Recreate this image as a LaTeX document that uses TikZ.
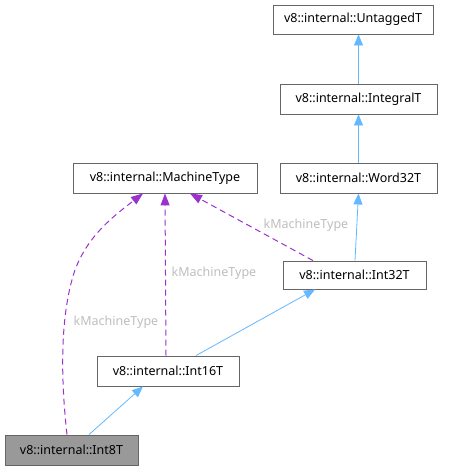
\documentclass[tikz,border=0pt]{standalone}
\usepackage{fontspec}
\setmainfont{Noto Sans}
\usetikzlibrary{arrows.meta}
\definecolor{edgeblue}{HTML}{63B8FF}
\definecolor{edgepurple}{HTML}{9A32CD}
\definecolor{boxborder}{HTML}{666666}
\definecolor{labelgray}{HTML}{BEBEBE}
\tikzset{
  cls/.style={draw=boxborder, line width=0.9pt, fill=white, inner sep=0pt, font=\fontsize{12.5}{14}\selectfont, text=black},
  inh/.style={draw=edgeblue, line width=0.8pt, -{Triangle[length=11pt,width=9pt]}},
  use/.style={draw=edgepurple, line width=1pt, dash pattern=on 6pt off 4pt, -{Triangle[length=12pt,width=9pt]}},
  lbl/.style={text=labelgray, font=\fontsize{12.5}{14}\selectfont, inner sep=0pt}
}
\begin{document}
\begin{tikzpicture}[x=1pt,y=-1pt]
\useasboundingbox (0,0) rectangle (449,471);
\node[cls, minimum width=160pt, minimum height=29pt] (untagged) at (353,19.5) {v8::internal::UntaggedT};
\node[cls, minimum width=157pt, minimum height=30pt] (integral) at (358.5,99) {v8::internal::IntegralT};
\node[cls, minimum width=157pt, minimum height=30pt] (word32) at (358.5,178) {v8::internal::Word32T};
\node[cls, minimum width=143pt, minimum height=28pt] (int32) at (354.5,275) {v8::internal::Int32T};
\node[cls, minimum width=184pt, minimum height=30pt] (machine) at (165,178) {v8::internal::MachineType};
\node[cls, minimum width=142pt, minimum height=30pt] (int16) at (168,371) {v8::internal::Int16T};
\node[cls, fill={rgb,255:red,153;green,153;blue,153}, minimum width=133pt, minimum height=30pt] (int8) at (71.5,450) {v8::internal::Int8T};

\draw[inh] (integral.north) -- (untagged.south -| integral.north);
\draw[inh] (word32.north) -- (integral.south);
\draw[inh] ([xshift=0.5pt]int32.north) -- (word32.south);
\draw[inh] ([xshift=28pt]int16.north) -- ([xshift=-39.5pt]int32.south);
\draw[inh] ([xshift=17.5pt]int8.north) -- ([xshift=-25pt]int16.south);

\draw[use] ([xshift=-41.5pt]int32.north) -- ([xshift=25pt]machine.south);
\draw[use] ([xshift=-2pt]int16.north) -- ([xshift=0pt]machine.south);
\draw[use] ([xshift=-4.5pt]int8.north) .. controls (62,390) and (58,320) .. (75,270) .. controls (88,235) and (115,215) .. ([xshift=-22pt]machine.south);

\node[lbl] (l1) at (306,225) {kMachineType};
\node[lbl] (l2) at (214,273) {kMachineType};
\node[lbl] (l3) at (116,322) {kMachineType};
\end{tikzpicture}
\end{document}
